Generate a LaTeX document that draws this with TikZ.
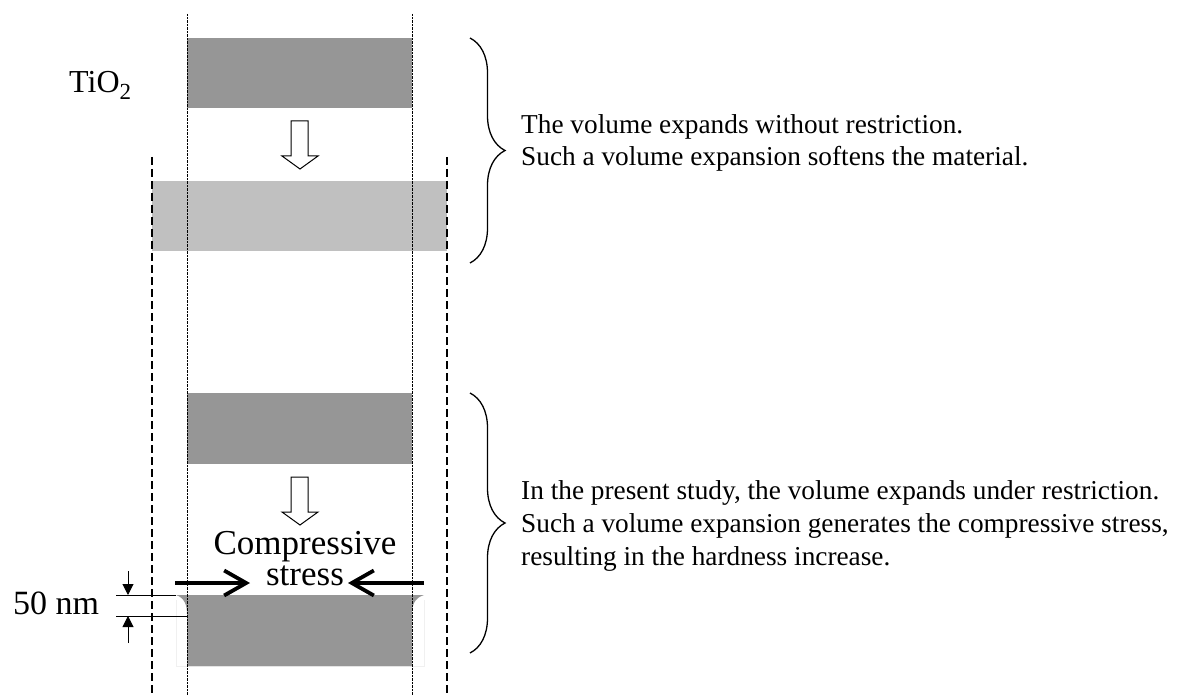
\documentclass[tikz,border=0pt]{standalone}
\usepackage{fontspec}
\setmainfont{Liberation Serif}
\usetikzlibrary{arrows.meta,decorations.pathreplacing}
\definecolor{bardark}{RGB}{150,150,150}
\definecolor{barlight}{RGB}{192,192,192}
\begin{document}
\begin{tikzpicture}[x=1pt,y=-1pt,
  dotline/.style={line width=0.7pt,dash pattern=on 0.7pt off 0.7pt},
  dashline/.style={line width=1.3pt,dash pattern=on 8pt off 4pt},
  hollowarrow/.style={draw=black,line width=1pt,fill=white},
  bracestyle/.style={decorate,decoration={brace,amplitude=35pt},line width=1.3pt},
  stressarrow/.style={line width=3.8pt,-{Straight Barb[length=22pt,width=25pt]}},
  dimarrow/.style={line width=1pt,-{Triangle[length=11pt,width=11pt]}},
  linetext/.style={anchor=base west,inner sep=0pt,font=\fontsize{27.3}{31}\selectfont}
]
\useasboundingbox (0,0) rectangle (1181,695);
% bars
\fill[bardark] (187,38) rectangle (412,108);
\fill[barlight] (152,181) rectangle (447,251);
\fill[bardark] (187,393) rectangle (412,464);
% expanded outline (faint)
\draw[gray!12,line width=0.6pt] (176,600) -- (176,666) -- (424,666) -- (424,600);
\fill[bardark] (176,595) -- (424,595) .. controls (414,598) and (412,606) .. (412,614)
  -- (412,666) -- (187,666) -- (187,614) .. controls (187,606) and (185,598) .. (176,595) -- cycle;
% vertical guide lines
\draw[dotline] (187,14) -- (187,695);
\draw[dotline] (412,14) -- (412,695);
\draw[dashline] (152,157) -- (152,695);
\draw[dashline] (447,157) -- (447,695);
% hollow arrows
\draw[hollowarrow] (291,121) -- (308,121) -- (308,156) -- (318,156) -- (300,169) -- (282,156) -- (291,156) -- cycle;
\draw[hollowarrow] (291,477) -- (308,477) -- (308,512) -- (318,512) -- (300,525) -- (282,512) -- (291,512) -- cycle;
% labels
\node[anchor=base west,inner sep=0pt,font=\fontsize{32}{34}\selectfont] (tio) at (69,93) {TiO\raisebox{-7pt}{\fontsize{23}{23}\selectfont 2}};
\node[anchor=base,inner sep=0pt,align=center,font=\fontsize{35}{31}\selectfont] (comp) at (305,585) {Compressive\\stress};
\coordinate (la) at (175,583);
\coordinate (lb) at (250,583);
\coordinate (ra) at (424,583);
\coordinate (rb) at (348,583);
\draw[stressarrow] (la) -- (lb);
\draw[stressarrow] (ra) -- (rb);
% dimension 50 nm
\coordinate (d1a) at (116,595);
\coordinate (d1b) at (176,595);
\coordinate (d2a) at (116,616);
\coordinate (d2b) at (187,616);
\draw[line width=1pt] (d1a) -- (d1b);
\draw[line width=1pt] (d2a) -- (d2b);
\coordinate (u0) at (128,571);
\coordinate (u1) at (128,595);
\coordinate (w0) at (128,643);
\coordinate (w1) at (128,616);
\draw[dimarrow] (u0) -- (u1);
\draw[dimarrow] (w0) -- (w1);
\node[anchor=base west,inner sep=0pt,font=\fontsize{34}{36}\selectfont] (nm) at (13,614) {50 nm};
% braces
\coordinate (b1t) at (470,38);
\coordinate (b1b) at (470,263);
\draw[bracestyle] (b1t) -- (b1b);
\coordinate (b2t) at (470,393);
\coordinate (b2b) at (470,653);
\draw[bracestyle] (b2t) -- (b2b);
% texts
\node[linetext] (t1a) at (521,134) {The volume expands without restriction.};
\node[linetext] (t1b) at (521,166) {Such a volume expansion softens the material.};
\node[linetext] (t2a) at (521,499) {In the present study, the volume expands under restriction.};
\node[linetext] (t2b) at (521,532) {Such a volume expansion generates the compressive stress,};
\node[linetext] (t2c) at (521,565) {resulting in the hardness increase.};
\end{tikzpicture}
\end{document}
